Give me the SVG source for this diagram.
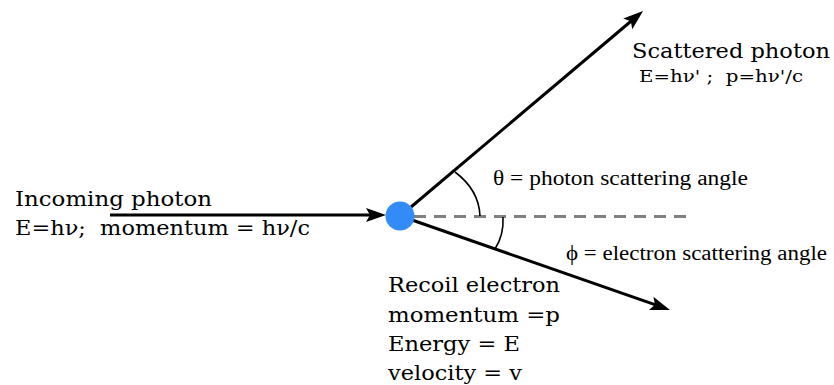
<svg xmlns="http://www.w3.org/2000/svg" width="834" height="385" viewBox="0 0 834 385">
<defs>
<style>
.main{font-size:21px;fill:#000;white-space:pre}
.small{font-size:17px;fill:#000;white-space:pre}
.gar{font-size:20px;fill:#000}
.arrow{stroke:#000;stroke-width:3;fill:none;marker-end:url(#ah)}
.arc{stroke:#000;stroke-width:1.6;fill:none}
.dash{stroke:#808080;stroke-width:3;stroke-dasharray:12 8;fill:none}
</style>
<marker id="ah" viewBox="0 0 20 14" refX="10" refY="7" markerWidth="20" markerHeight="14" markerUnits="userSpaceOnUse" orient="auto">
<path d="M0,0 L20,7 L0,14 L4,7 z" fill="#000"/>
</marker>
</defs>
<rect width="834" height="385" fill="#fff"/>
<g id="connectors">
<path class="dash" d="M414,216.5 L688,216.5"/>
<path class="arrow" d="M110,215 L376,215"/>
<path class="arrow" d="M411,207 L635.4,17.5"/>
<path class="arrow" d="M412,220 L660.6,306.7"/>
<path class="arc" d="M455,172 Q479,190 480,216"/>
<path class="arc" d="M503,217 Q504,235 495,249"/>
</g>
<g id="electron">
<circle cx="400" cy="216" r="14.5" fill="#338bf8"/>
</g>
<g id="incoming">
<text class="main" font-family="DejaVu Serif" x="15" y="206" textLength="197" lengthAdjust="spacingAndGlyphs">Incoming photon</text>
<text class="main" font-family="DejaVu Serif" x="15" y="235" textLength="295" lengthAdjust="spacingAndGlyphs" xml:space="preserve">E=hν;  momentum = hν/c</text>
</g>
<g id="scattered">
<text class="main" font-family="DejaVu Serif" x="632" y="58" textLength="198" lengthAdjust="spacingAndGlyphs">Scattered photon</text>
<text class="small" font-family="DejaVu Serif" x="639" y="82" textLength="164" lengthAdjust="spacingAndGlyphs" xml:space="preserve">E=hν' ;  p=hν'/c</text>
</g>
<g id="theta-label">
<text class="gar" font-family="Liberation Serif" x="493" y="185" textLength="255" lengthAdjust="spacingAndGlyphs">θ = photon scattering angle</text>
</g>
<g id="phi-label">
<text class="gar" font-family="Liberation Serif" x="566" y="260" textLength="261" lengthAdjust="spacingAndGlyphs">ϕ = electron scattering angle</text>
</g>
<g id="recoil">
<text class="main" font-family="DejaVu Serif" x="388" y="292" textLength="172" lengthAdjust="spacingAndGlyphs">Recoil electron</text>
<text class="main" font-family="DejaVu Serif" x="388" y="322" textLength="172" lengthAdjust="spacingAndGlyphs">momentum =p</text>
<text class="main" font-family="DejaVu Serif" x="388" y="351" textLength="132" lengthAdjust="spacingAndGlyphs">Energy = E</text>
<text class="main" font-family="DejaVu Serif" x="388" y="380" textLength="134" lengthAdjust="spacingAndGlyphs">velocity = v</text>
</g>
</svg>
